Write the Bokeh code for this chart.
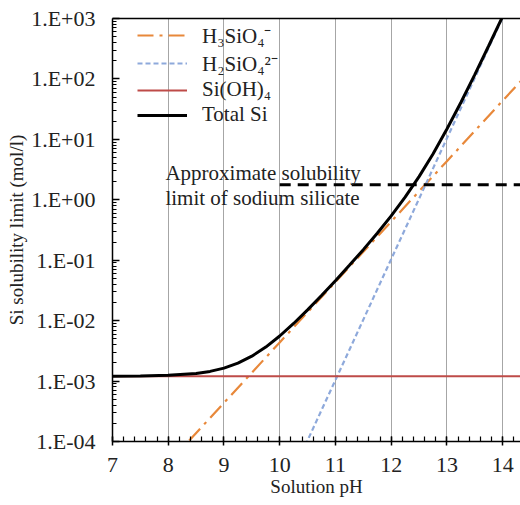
from bokeh.plotting import figure
from bokeh.models import (FixedTicker, LinearAxis, Range1d, Label, Legend, LegendItem)
from bokeh.embed import file_html
from bokeh.resources import INLINE

# ---- data ----
ph_h3 = [8.0, 9.0, 10.0, 11.0, 12.0, 13.0, 14.0, 14.4]
h3sio4 = [4.36e-5, 4.36e-4, 4.36e-3, 4.36e-2, 0.436, 4.36, 43.6, 109.0]

ph_h2 = [10.4, 11.0, 12.0, 13.0, 14.0, 14.4]
h2sio4 = [6.6e-5, 1.04e-3, 1.04e-1, 10.4, 1040.0, 6600.0]

ph_sioh = [7.0, 14.4]
sioh4 = [1.2e-3, 1.2e-3]

ph_tot = [7.0, 7.5, 8.0, 8.5, 8.75, 9.0, 9.25, 9.5, 9.75, 10.0, 10.25, 10.5, 10.75,
          11.0, 11.25, 11.5, 11.75, 12.0, 12.25, 12.5, 12.75, 13.0, 13.25, 13.5,
          13.75, 14.0, 14.1]
total_si = [1.204e-3, 1.214e-3, 1.244e-3, 1.338e-3, 1.445e-3, 1.636e-3, 1.975e-3,
            2.58e-3, 3.65e-3, 5.57e-3, 8.98e-3, 1.51e-2, 2.60e-2, 4.58e-2, 8.22e-2,
            0.1496, 0.279, 0.541, 1.105, 2.42, 5.74, 14.8, 40.7, 118.0, 354.0,
            1084.0, 1703.0]

ph_na = [10.0, 14.4]
na_limit = [1.78, 1.78]

x_ticks = [7, 8, 9, 10, 11, 12, 13, 14]
y_ticks = [1e-4, 1e-3, 1e-2, 1e-1, 1e0, 1e1, 1e2, 1e3]
y_tick_labels = ["1.E-04", "1.E-03", "1.E-02", "1.E-01", "1.E+00", "1.E+01", "1.E+02", "1.E+03"]

series_labels = ["H\u2083SiO\u2084\u207b", "H\u2082SiO\u2084\u00b2\u207b", "Si(OH)\u2084", "Total Si"]
annotation_lines = ["Approximate solubility", "limit of sodium silicate"]

FONT = "Liberation Serif"

p = figure(width=520, height=505, y_axis_type="log",
           x_range=Range1d(7, 14.32), y_range=Range1d(1e-4, 1e3),
           output_backend="svg", toolbar_location=None,
           x_axis_label="Solution pH", y_axis_label="Si solubility limit (mol/l)")
p.min_border_left = 112
p.min_border_right = 0
p.min_border_top = 18
p.min_border_bottom = 64
p.outline_line_color = None
p.background_fill_color = "white"
p.border_fill_color = "white"

# grid
p.ygrid.visible = False
p.xgrid.ticker = FixedTicker(ticks=x_ticks[1:])
p.xgrid.grid_line_color = "#a6a6a6"
p.xgrid.grid_line_width = 1

# x axis
xa = p.xaxis[0]
xa.ticker = FixedTicker(ticks=x_ticks, minor_ticks=[7 + 0.2 * i for i in range(0, 37)])
xa.major_tick_in = 5
xa.major_tick_out = 4
xa.minor_tick_in = 5
xa.minor_tick_out = 0
xa.axis_line_color = "black"
xa.axis_line_width = 1.5
xa.major_tick_line_width = 1.5
xa.minor_tick_line_width = 1.2
xa.major_label_text_font = FONT
xa.major_label_text_font_size = "22px"
xa.major_label_text_color = "#222222"
xa.major_label_standoff = 12
xa.axis_label_text_font = FONT
xa.axis_label_text_font_size = "19px"
xa.axis_label_text_font_style = "normal"
xa.axis_label_text_color = "#222222"
xa.axis_label_standoff = 1

# y axis
ya = p.yaxis[0]
ya.ticker = FixedTicker(ticks=y_ticks,
                        minor_ticks=[m * 10.0 ** e for e in range(-4, 3) for m in range(2, 10)])
ya.major_label_overrides = {t: l for t, l in zip(y_ticks, y_tick_labels)}
ya.major_tick_in = 7
ya.major_tick_out = 0
ya.minor_tick_in = 4
ya.minor_tick_out = 0
ya.axis_line_color = "black"
ya.axis_line_width = 1.5
ya.major_tick_line_width = 1.5
ya.minor_tick_line_width = 1
ya.major_label_text_font = FONT
ya.major_label_text_font_size = "22px"
ya.major_label_text_color = "#222222"
ya.major_label_standoff = 17
ya.axis_label_text_font = FONT
ya.axis_label_text_font_size = "19px"
ya.axis_label_text_font_style = "normal"
ya.axis_label_text_color = "#222222"
ya.axis_label_standoff = 1

# top frame line
top = LinearAxis(major_label_text_font_size="0px", major_tick_in=0, major_tick_out=0,
                 minor_tick_in=0, minor_tick_out=0, axis_line_color="black",
                 axis_line_width=1.5, major_label_standoff=0)
top.ticker = FixedTicker(ticks=[])
p.add_layout(top, "above")

# series
r_h3 = p.line(ph_h3, h3sio4, line_color="#E8883A", line_width=2.2, line_dash="16 6 3 6")
r_h2 = p.line(ph_h2, h2sio4, line_color="#8EA9DB", line_width=2.2, line_dash="5 3")
r_si = p.line(ph_sioh, sioh4, line_color="#BE4B48", line_width=2)
r_tot = p.line(ph_tot, total_si, line_color="black", line_width=3)
p.line(ph_na, na_limit, line_color="black", line_width=3, line_dash="11 7")

# annotation text
for i, txt in enumerate(annotation_lines):
    p.add_layout(Label(x=7.95, y=na_limit[0], text=txt, text_font=FONT,
                       text_font_size="21px", text_color="#222222",
                       text_baseline="middle", y_offset=12 - 25 * i))

legend = Legend(items=[LegendItem(label=series_labels[0], renderers=[r_h3]),
                       LegendItem(label=series_labels[1], renderers=[r_h2]),
                       LegendItem(label=series_labels[2], renderers=[r_si]),
                       LegendItem(label=series_labels[3], renderers=[r_tot])],
                location=(25, 314))
legend.background_fill_alpha = 0
legend.border_line_color = None
legend.padding = 0
legend.margin = 0
legend.spacing = 0
legend.glyph_width = 50
legend.glyph_height = 24
legend.label_height = 24
legend.label_standoff = 15
legend.label_text_font = FONT
legend.label_text_font_size = "21px"
legend.label_text_color = "#222222"
p.add_layout(legend, "center")

open("out.html", "w").write(file_html(p, INLINE))
